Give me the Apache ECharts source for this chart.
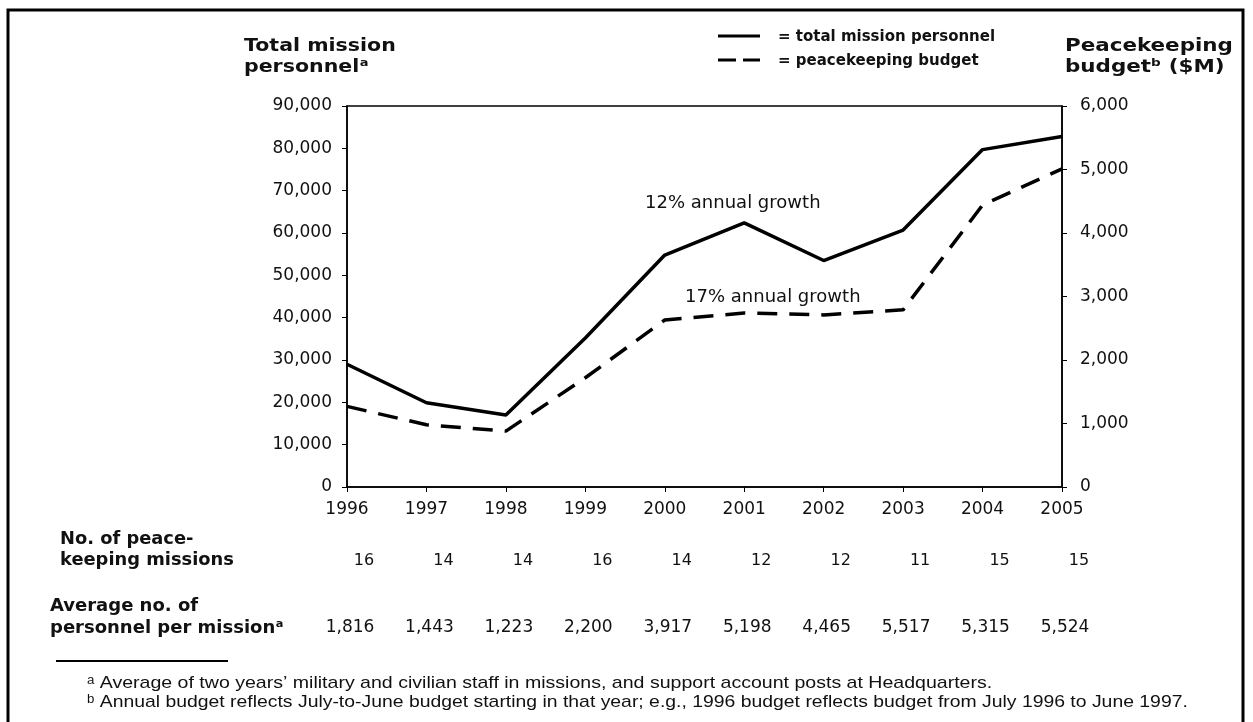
<!DOCTYPE html>
<html>
<head>
<meta charset="utf-8">
<script src="https://cdn.jsdelivr.net/npm/echarts@6/dist/echarts.min.js"></script>
<style>
  html, body { margin: 0; padding: 0; background: #fff; }
  #chart { width: 1253px; height: 722px; }
</style>
</head>
<body>
<div id="chart"></div>
<script>
const years = ['1996', '1997', '1998', '1999', '2000', '2001', '2002', '2003', '2004', '2005'];
const personnel = [29000, 19900, 17000, 35200, 54800, 62400, 53500, 60700, 79700, 82800];
const budget = [1270, 980, 880, 1720, 2630, 2740, 2710, 2790, 4440, 5010];
const missions = ['16', '14', '14', '16', '14', '12', '12', '11', '15', '15'];
const perMission = ['1,816', '1,443', '1,223', '2,200', '3,917', '5,198', '4,465', '5,517', '5,315', '5,524'];

const ink = '#111';
const plain = 'DejaVu Sans';
const fmt = function (v) { return Number(v).toLocaleString('en-US'); };

function label(x, y, text, font, extra) {
    return Object.assign({
        type: 'text',
        x: x,
        y: y,
        silent: true,
        style: { text: text, font: font, fill: ink, textVerticalAlign: 'middle' }
    }, extra || {});
}

function stroke(x1, y1, x2, y2, w) {
    return { type: 'line', silent: true, shape: { x1: x1, y1: y1, x2: x2, y2: y2 },
             style: { stroke: '#000', lineWidth: w } };
}

const chart = echarts.init(document.getElementById('chart'));

const option = {
    animation: false,
    backgroundColor: '#fff',
    grid: {
        left: 347, right: 191, top: 106, bottom: 235,
        show: true, borderColor: '#000', borderWidth: 1.5
    },
    xAxis: [
        {
            type: 'category', data: years, boundaryGap: false,
            axisLine: { lineStyle: { color: '#000', width: 1.5 } },
            axisTick: { length: 5, lineStyle: { color: '#000' } },
            axisLabel: { margin: 14, fontFamily: plain, fontSize: 17, color: ink }
        },
        {
            // row: no. of peacekeeping missions
            type: 'category', data: years, boundaryGap: false, position: 'bottom', offset: 66,
            axisLine: { show: false }, axisTick: { show: false },
            axisLabel: {
                margin: 0, fontFamily: plain, fontSize: 16, color: ink, padding: [0, 0, 0, 34],
                formatter: function (v, i) { return missions[i]; }
            }
        },
        {
            // row: average personnel per mission
            type: 'category', data: years, boundaryGap: false, position: 'bottom', offset: 132,
            axisLine: { show: false }, axisTick: { show: false },
            axisLabel: {
                margin: 0, fontFamily: plain, fontSize: 17, color: ink, padding: [0, 0, 0, 6],
                formatter: function (v, i) { return perMission[i]; }
            }
        }
    ],
    yAxis: [
        {
            type: 'value', min: 0, max: 90000, interval: 10000,
            splitLine: { show: false },
            axisLine: { show: true, lineStyle: { color: '#000', width: 1.5 } },
            axisTick: { show: true, length: 5, lineStyle: { color: '#000' } },
            axisLabel: { margin: 15, fontFamily: plain, fontSize: 17, color: ink, formatter: fmt }
        },
        {
            type: 'value', min: 0, max: 6000, interval: 1000,
            splitLine: { show: false },
            axisLine: { show: true, lineStyle: { color: '#000', width: 1.5 } },
            axisTick: { show: true, length: 5, lineStyle: { color: '#000' } },
            axisLabel: { margin: 18, fontFamily: plain, fontSize: 17, color: ink, formatter: fmt }
        }
    ],
    series: [
        {
            name: 'total mission personnel', type: 'line', yAxisIndex: 0,
            data: personnel, symbol: 'none',
            lineStyle: { color: '#000', width: 3.5 }, itemStyle: { color: '#000' }
        },
        {
            name: 'peacekeeping budget', type: 'line', yAxisIndex: 1,
            data: budget, symbol: 'none',
            lineStyle: { color: '#000', width: 3.5, type: [20, 12] }, itemStyle: { color: '#000' }
        }
    ],
    graphic: [
        // page frame (open at the bottom, cropped)
        { type: 'rect', silent: true, shape: { x: 8, y: 10, width: 1235, height: 760 },
          style: { fill: 'none', stroke: '#000', lineWidth: 3 } },
        label(244, 46, 'Total mission', 'bold 18px "DejaVu Sans"', { scaleX: 1.14 }),
        label(244, 67, 'personnelᵃ', 'bold 18px "DejaVu Sans"', { scaleX: 1.14 }),
        label(1065, 46, 'Peacekeeping', 'bold 18px "DejaVu Sans"', { scaleX: 1.19 }),
        label(1065, 67, 'budgetᵇ ($M)', 'bold 18px "DejaVu Sans"', { scaleX: 1.19 }),
        // legend
        stroke(718, 36, 760, 36, 3),
        stroke(718, 60, 736, 60, 3),
        stroke(743, 60, 760, 60, 3),
        label(778, 37, '= total mission personnel', 'bold 15px "DejaVu Sans"'),
        label(778, 61, '= peacekeeping budget', 'bold 15px "DejaVu Sans"'),
        // annotations
        label(645, 204, '12% annual growth', '17px "DejaVu Sans"', { scaleX: 1.06 }),
        label(685, 298, '17% annual growth', '17px "DejaVu Sans"', { scaleX: 1.06 }),
        // table row labels
        label(60, 540, 'No. of peace-', 'bold 17px "DejaVu Sans"', { scaleX: 1.05 }),
        label(60, 561, 'keeping missions', 'bold 17px "DejaVu Sans"', { scaleX: 1.05 }),
        label(50, 606, 'Average no. of', 'bold 18px "DejaVu Sans"'),
        label(50, 628, 'personnel per missionᵃ', 'bold 18px "DejaVu Sans"'),
        // footnotes
        stroke(56, 661, 228, 661, 2),
        label(87, 683, 'ᵃ Average of two years\u2019 military and civilian staff in missions, and support account posts at Headquarters.',
            '17px "Liberation Sans"', { scaleX: 1.15 }),
        label(87, 702, 'ᵇ Annual budget reflects July-to-June budget starting in that year; e.g., 1996 budget reflects budget from July 1996 to June 1997.',
            '17px "Liberation Sans"', { scaleX: 1.14 })
    ]
};

chart.setOption(option);
</script>
</body>
</html>
